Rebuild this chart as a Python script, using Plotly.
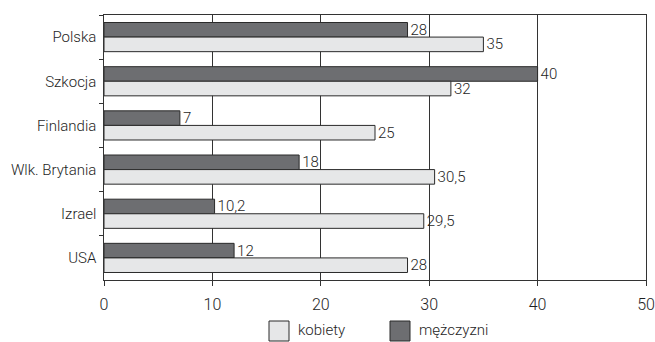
import plotly.graph_objects as go

categories = ["Polska", "Szkocja", "Finlandia", "Wlk. Brytania", "Izrael", "USA"]
kobiety = [35, 32, 25, 30.5, 29.5, 28]
mezczyzni = [28, 40, 7, 18, 10.2, 12]
x_ticks = [0, 10, 20, 30, 40, 50]

def fmt(v):
    return (f"{v:g}").replace(".", ",")

FONT = "Roboto, Liberation Sans Narrow, sans-serif"
WEIGHT = 300
TXT = "#1e1e1e"
DARK = "#6d6e71"
LIGHT = "#e6e7e8"
EDGE = "#2a2a2a"

def f(size=15):
    return dict(family=FONT, size=size, color=TXT, weight=WEIGHT)

fig = go.Figure()
fig.add_trace(go.Bar(
    y=categories, x=mezczyzni, orientation="h", name="mężczyzni",
    marker=dict(color=DARK, line=dict(color=EDGE, width=1)),
    text=[fmt(v) for v in mezczyzni], textposition="outside", constraintext="none",
    textfont=f(), cliponaxis=False, showlegend=False,
))
fig.add_trace(go.Bar(
    y=categories, x=kobiety, orientation="h", name="kobiety",
    marker=dict(color=LIGHT, line=dict(color=EDGE, width=1)),
    text=[fmt(v) for v in kobiety], textposition="outside", constraintext="none",
    textfont=f(), cliponaxis=False, showlegend=False,
))

# custom legend (paper coordinates)
legend_items = [("kobiety", LIGHT, 269), ("mężczyzni", DARK, 390)]
W, H = 655, 342
L, R, T, B = 104, 9, 15, 62
pw, ph = W - L - R, H - T - B
for label, color, px in legend_items:
    x0 = (px - L) / pw
    x1 = (px + 20 - L) / pw
    y0 = (H - B - 321) / ph
    y1 = (H - B - 341) / ph
    fig.add_shape(type="rect", xref="paper", yref="paper", x0=x0, x1=x1, y0=y1, y1=y0,
                  fillcolor=color, line=dict(color=EDGE, width=1))
    fig.add_annotation(xref="paper", yref="paper", x=(px + 27 - L) / pw, y=(H - B - 330) / ph,
                       text=label, showarrow=False, xanchor="left", yanchor="middle",
                       font=f())

fig.update_layout(
    width=W, height=H,
    margin=dict(l=L, r=R, t=T, b=B, autoexpand=False),
    paper_bgcolor="white", plot_bgcolor="white",
    barmode="group", bargap=0.34, bargroupgap=0,
    font=f(),
    showlegend=False,
)
fig.update_xaxes(
    range=[0, 50], tickvals=x_ticks, ticktext=[str(v) for v in x_ticks],
    showgrid=True, gridcolor="#333333", gridwidth=1,
    showline=True, linecolor="#333333", linewidth=1, mirror=True,
    ticks="outside", ticklen=5, tickcolor="#333333", ticklabelstandoff=5,
    zeroline=False, tickfont=f(16),
)
fig.update_yaxes(
    autorange="reversed", categoryorder="array", categoryarray=categories,
    showline=True, linecolor="#333333", linewidth=1, mirror=True,
    ticks="outside", ticklen=4, tickcolor="#333333", tickson="boundaries",
    showgrid=False, ticksuffix=" ",
    tickfont=f(),
)

fig.write_html("out.html")
